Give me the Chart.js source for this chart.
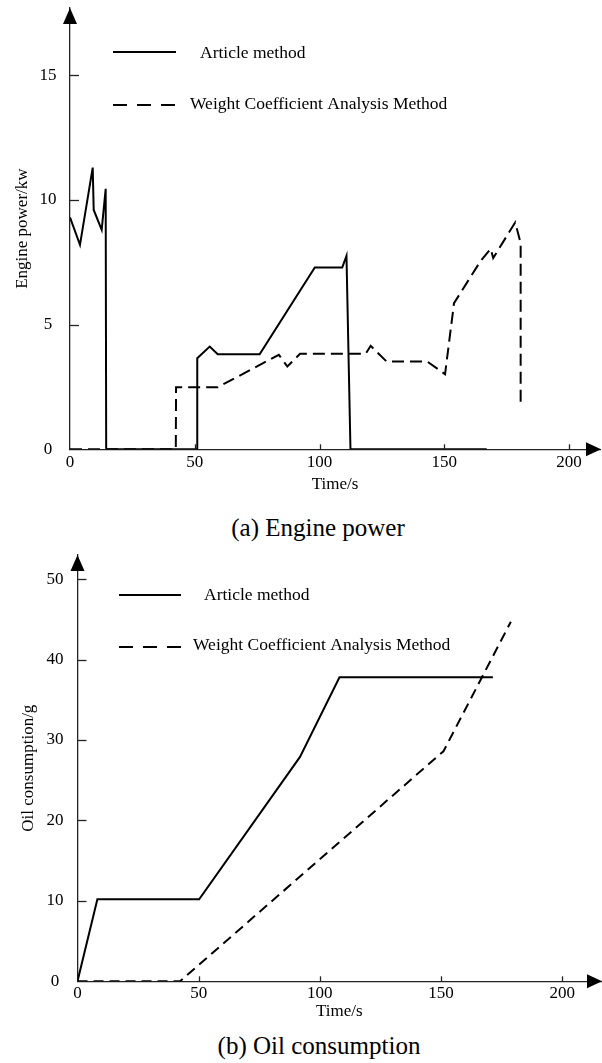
<!DOCTYPE html>
<html>
<head>
<meta charset="utf-8">
<script src="https://cdn.jsdelivr.net/npm/chart.js@4.4.0/dist/chart.umd.min.js"></script>
<style>
body{margin:0;background:#fff;width:602px;height:1063px;position:relative;overflow:hidden;font-family:"Liberation Serif","Times New Roman",serif;}
canvas{position:absolute;left:0;}
.cap{position:absolute;font-size:25px;color:#000;transform:translate(-50%,-50%);white-space:nowrap;}
</style>
</head>
<body>
<canvas id="enginePower" width="602" height="500" style="top:0px"></canvas>
<div class="cap" style="left:318px;top:528px">(a) Engine power</div>
<canvas id="oilUse" width="602" height="490" style="top:540px"></canvas>
<div class="cap" style="left:319px;top:1046px">(b) Oil consumption</div>
<script>
// (a) engine power, kw
var engArticleT = [0, 4, 9.1, 9.5, 12.7, 14.3, 14.5, 50.9, 51, 56, 59.2, 76, 98.1, 109.1, 110.8, 112.4, 167];
var engArticle  = [9.3, 8.2, 11.3, 9.6, 8.8, 10.45, 0, 0, 3.65, 4.12, 3.81, 3.81, 7.29, 7.29, 7.76, 0, 0];
var engWeightT  = [0, 42.4, 42.5, 59.2, 83.7, 87.1, 92.2, 118.5, 120.5, 126.9, 143.2, 150.3, 153.9, 164.4, 168.6, 169.6, 178.4, 180.6, 180.6];
var engWeight   = [0, 0, 2.49, 2.49, 3.79, 3.32, 3.83, 3.83, 4.15, 3.52, 3.52, 3.01, 5.86, 7.53, 8.04, 7.67, 9.1, 8.27, 1.67];

// (b) oil consumption, g
var oilArticleT = [0, 8.2, 50.2, 91.8, 108.1, 171.4];
var oilArticle  = [0, 10.2, 10.2, 27.9, 37.8, 37.8];
var oilWeightT  = [0, 42.3, 151, 178.8];
var oilWeight   = [0, 0, 28.6, 44.7];

var timeTicks = [0, 50, 100, 150, 200];
var engTicks = [0, 5, 10, 15];
var oilTicks = [0, 10, 20, 30, 40, 50];
var legendNames = ['Article method', 'Weight Coefficient Analysis Method'];

function pts(xs, ys){
	var out = [];
	for(var i in xs) out.push({x: xs[i], y: ys[i]});
	return out;
}

// arrows, inward tick marks and the legend
var axisDeco = {
	id: 'axisDeco',
	afterDraw: function(chart, args, o){
		var ctx = chart.ctx, a = chart.chartArea;
		var xs = chart.scales.x, ys = chart.scales.y;
		ctx.save();
		ctx.strokeStyle = '#222';
		ctx.lineWidth = 1.3;
		o.yTicks.forEach(function(v){
			if(v === 0) return;
			var py = Math.round(ys.getPixelForValue(v)) + 0.5;
			ctx.beginPath(); ctx.moveTo(a.left, py); ctx.lineTo(a.left + 9, py); ctx.stroke();
		});
		o.xTicks.forEach(function(v){
			if(v === 0) return;
			var px = Math.round(xs.getPixelForValue(v)) + 0.5;
			ctx.beginPath(); ctx.moveTo(px, a.bottom); ctx.lineTo(px, a.bottom - 5); ctx.stroke();
		});
		ctx.fillStyle = '#000';
		ctx.beginPath();
		ctx.moveTo(a.left, a.top); ctx.lineTo(a.left - 7, a.top + 16); ctx.lineTo(a.left + 7, a.top + 16);
		ctx.closePath(); ctx.fill();
		ctx.beginPath();
		ctx.moveTo(a.right + 1, a.bottom); ctx.lineTo(a.right - 14, a.bottom - 7); ctx.lineTo(a.right - 14, a.bottom + 7);
		ctx.closePath(); ctx.fill();

		// legend
		ctx.strokeStyle = '#000';
		ctx.lineWidth = 2;
		ctx.beginPath(); ctx.moveTo(o.lx0, o.ly[0]); ctx.lineTo(o.lx1, o.ly[0]); ctx.stroke();
		ctx.setLineDash([14, 10]);
		ctx.beginPath(); ctx.moveTo(o.lx0, o.ly[1]); ctx.lineTo(o.lx1, o.ly[1]); ctx.stroke();
		ctx.setLineDash([]);
		ctx.font = '17.5px "Liberation Serif"';
		ctx.textBaseline = 'middle';
		ctx.fillText(legendNames[0], o.tx[0], o.ty[0]);
		ctx.fillText(legendNames[1], o.tx[1], o.ty[1]);
		ctx.restore();
	}
};

function noPad(s){
	s.paddingTop = 0; s.paddingBottom = 0; s.paddingLeft = 0; s.paddingRight = 0;
}

function makeChart(id, cfg){
	var font = {family: '"Liberation Serif"', size: 17};
	return new Chart(document.getElementById(id), {
		type: 'line',
		data: {
			datasets: [
				{data: pts(cfg.aT, cfg.a), borderColor: '#000', borderWidth: 2, pointRadius: 0, tension: 0, fill: false},
				{data: pts(cfg.wT, cfg.w), borderColor: '#000', borderWidth: 2, borderDash: cfg.dash, pointRadius: 0, tension: 0, fill: false}
			]
		},
		options: {
			responsive: false,
			animation: false,
			devicePixelRatio: 1,
			layout: {padding: {top: cfg.padTop, right: cfg.padRight, left: 0, bottom: 0}},
			plugins: {legend: {display: false}, tooltip: {enabled: false}, axisDeco: cfg.deco},
			scales: {
				x: {
					type: 'linear', min: 0, max: cfg.xMax,
					afterBuildTicks: function(s){ s.ticks = timeTicks.map(function(v){ return {value: v}; }); },
					afterFit: function(s){ s.height = cfg.xHeight; noPad(s); },
					grid: {display: false, drawTicks: false},
					border: {display: true, color: '#222', width: 1.3},
					ticks: {font: font, color: '#000', padding: cfg.xPad, maxRotation: 0, autoSkip: false},
					title: {display: true, text: 'Time/s', font: font, color: '#000', padding: {top: 0, bottom: cfg.xTitlePad}}
				},
				y: {
					type: 'linear', min: 0, max: cfg.yMax,
					afterBuildTicks: function(s){ s.ticks = cfg.yTicks.map(function(v){ return {value: v}; }); },
					afterFit: function(s){ s.width = cfg.yWidth; noPad(s); },
					grid: {display: false, drawTicks: false},
					border: {display: true, color: '#222', width: 1.3},
					ticks: {font: font, color: '#000', padding: cfg.yPad, crossAlign: 'center', autoSkip: false},
					title: {display: true, text: cfg.yTitle, font: font, color: '#000', padding: {top: cfg.yTitlePad, bottom: 0}}
				}
			}
		},
		plugins: [axisDeco]
	});
}

makeChart('enginePower', {
	aT: engArticleT, a: engArticle, wT: engWeightT, w: engWeight, dash: [12, 6],
	xMax: 212.4, yMax: 17.7, padTop: 8, padRight: 2,
	xHeight: 50.7, xPad: 3.5, xTitlePad: 5,
	yWidth: 70, yPad: 13.5, yTitlePad: 12, yTicks: engTicks, yTitle: 'Engine power/kw',
	deco: {xTicks: timeTicks, yTicks: engTicks, lx0: 113, lx1: 176, ly: [52, 105], tx: [200, 190], ty: [53, 104]}
});

makeChart('oilUse', {
	aT: oilArticleT, a: oilArticle, wT: oilWeightT, w: oilWeight, dash: [10, 6],
	xMax: 216, yMax: 53, padTop: 15, padRight: 1,
	xHeight: 48.7, xPad: 2, xTitlePad: 8,
	yWidth: 77.5, yPad: 14, yTitlePad: 18, yTicks: oilTicks, yTitle: 'Oil consumption/g',
	deco: {xTicks: timeTicks, yTicks: oilTicks, lx0: 119, lx1: 181, ly: [55, 107], tx: [204, 193], ty: [55, 105]}
});
</script>
</body>
</html>
